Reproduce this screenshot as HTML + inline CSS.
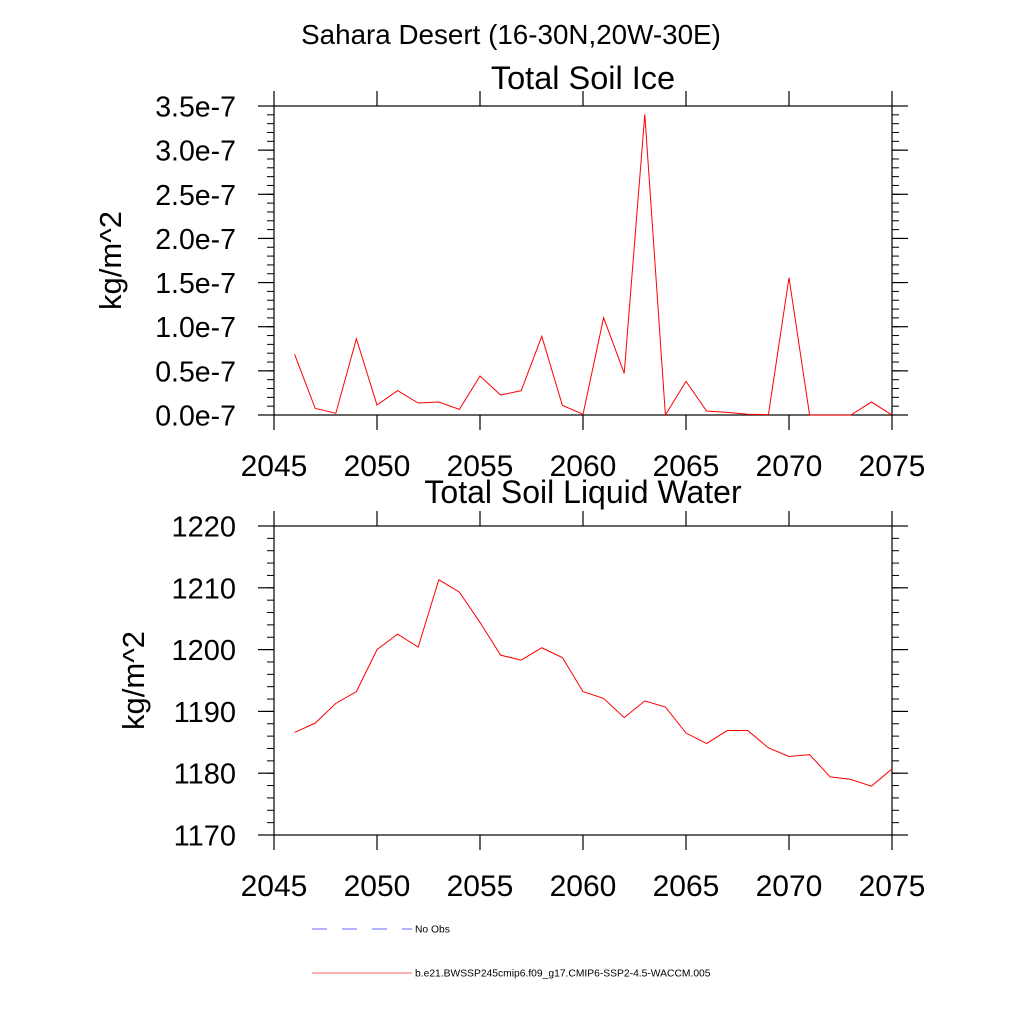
<!DOCTYPE html>
<html><head><meta charset="utf-8"><style>
body{margin:0;background:#fff}
svg text{font-family:"Liberation Sans",sans-serif;fill:#000}
</style></head><body>
<svg id="s" width="1024" height="1024" xmlns="http://www.w3.org/2000/svg">
<text x="511" y="44" font-size="27.8" text-anchor="middle">Sahara Desert (16-30N,20W-30E)</text>
<text x="583" y="89" font-size="32.5" text-anchor="middle">Total Soil Ice</text>
<text x="583" y="503" font-size="32" text-anchor="middle">Total Soil Liquid Water</text>
<g id="p1"></g>
<g id="p2"></g>
<g>
<line x1="312" y1="929" x2="412" y2="929" stroke="#6666ff" stroke-width="1" stroke-dasharray="15,15"/>
<text x="415" y="932.5" font-size="10.3">No Obs</text>
<line x1="312" y1="973" x2="412" y2="973" stroke="#f06060" stroke-width="1"/>
<text x="415" y="976.5" font-size="10.3">b.e21.BWSSP245cmip6.f09_g17.CMIP6-SSP2-4.5-WACCM.005</text>
</g>
</svg>
<script>
const years=[2046,2047,2048,2049,2050,2051,2052,2053,2054,2055,2056,2057,2058,2059,2060,2061,2062,2063,2064,2065,2066,2067,2068,2069,2070,2071,2072,2073,2074,2075];
const iceVals=[0.687,0.075,0.019,0.864,0.113,0.276,0.136,0.147,0.064,0.442,0.226,0.276,0.891,0.109,0.008,1.102,0.472,3.405,0,0.381,0.045,0.03,0.008,0.004,1.555,0,0,0,0.147,0];
const waterVals=[1186.6,1188.1,1191.3,1193.2,1200.0,1202.5,1200.4,1211.3,1209.3,1204.4,1199.1,1198.3,1200.3,1198.7,1193.2,1192.1,1189.0,1191.7,1190.7,1186.5,1184.8,1186.9,1186.9,1184.1,1182.7,1183.0,1179.4,1179.0,1177.9,1180.7];
const xTicks=[2045,2050,2055,2060,2065,2070,2075];
const iceTicks=[0,0.5,1.0,1.5,2.0,2.5,3.0,3.5];
const iceTickLabels=["0.0e-7","0.5e-7","1.0e-7","1.5e-7","2.0e-7","2.5e-7","3.0e-7","3.5e-7"];
const waterTicks=[1170,1180,1190,1200,1210,1220];
const waterTickLabels=["1170","1180","1190","1200","1210","1220"];
const NS="http://www.w3.org/2000/svg";
function mk(g,t,a,txt){const e=document.createElementNS(NS,t);for(const k in a)e.setAttribute(k,a[k]);if(txt!==undefined)e.textContent=txt;g.appendChild(e);return e;}
function panel(g,top,bot,ymin,ymax,ticks,labels,minorStep,vals,ylab,ylabX,yfs){
 const L=274,R=892;
 const xs=v=>L+(v-2045)/30*(R-L);
 const ys=v=>bot-(v-ymin)/(ymax-ymin)*(bot-top);
 const f=mk(g,'rect',{x:L,y:top,width:R-L,height:bot-top,fill:'none',stroke:'#000','stroke-width':1.2});
 
 
 for(let v=ymin;v<=ymax+1e-9;v+=minorStep){const y=ys(v);
  mk(g,'line',{x1:L-7,y1:y,x2:L,y2:y,stroke:'#000'});mk(g,'line',{x1:R,y1:y,x2:R+7,y2:y,stroke:'#000'});}
 ticks.forEach((v,i)=>{const y=ys(v);
  mk(g,'line',{x1:L-16,y1:y,x2:L,y2:y,stroke:'#000','stroke-width':1.2});mk(g,'line',{x1:R,y1:y,x2:R+16,y2:y,stroke:'#000','stroke-width':1.2});
  const t=mk(g,'text',{x:L-38,y:y+10.5,'font-size':yfs,'text-anchor':'end'},labels[i]);
  
  });
 xTicks.forEach(v=>{const x=xs(v);
  mk(g,'line',{x1:x,y1:top-15,x2:x,y2:top,stroke:'#000','stroke-width':1.2});mk(g,'line',{x1:x,y1:bot,x2:x,y2:bot+15,stroke:'#000','stroke-width':1.2});
  const t=mk(g,'text',{x:x,y:bot+61,'font-size':30,'text-anchor':'middle'},String(v));
  
  });
 const yl=mk(g,'text',{x:ylabX,y:(top+bot)/2,'font-size':31,'text-anchor':'middle',transform:`rotate(-90 ${ylabX} ${(top+bot)/2})`},ylab);
 
 
 const p=mk(g,'polyline',{points:years.map((y,i)=>xs(y)+','+ys(vals[i])).join(' '),fill:'none',stroke:'#ff0000','stroke-width':1});
 
 
}
panel(document.getElementById('p1'),106,415,0,3.5,iceTicks,iceTickLabels,0.1,iceVals,'kg/m^2',121,28.5);
panel(document.getElementById('p2'),526,835,1170,1220,waterTicks,waterTickLabels,2,waterVals,'kg/m^2',144,29);
</script>
</body></html>
